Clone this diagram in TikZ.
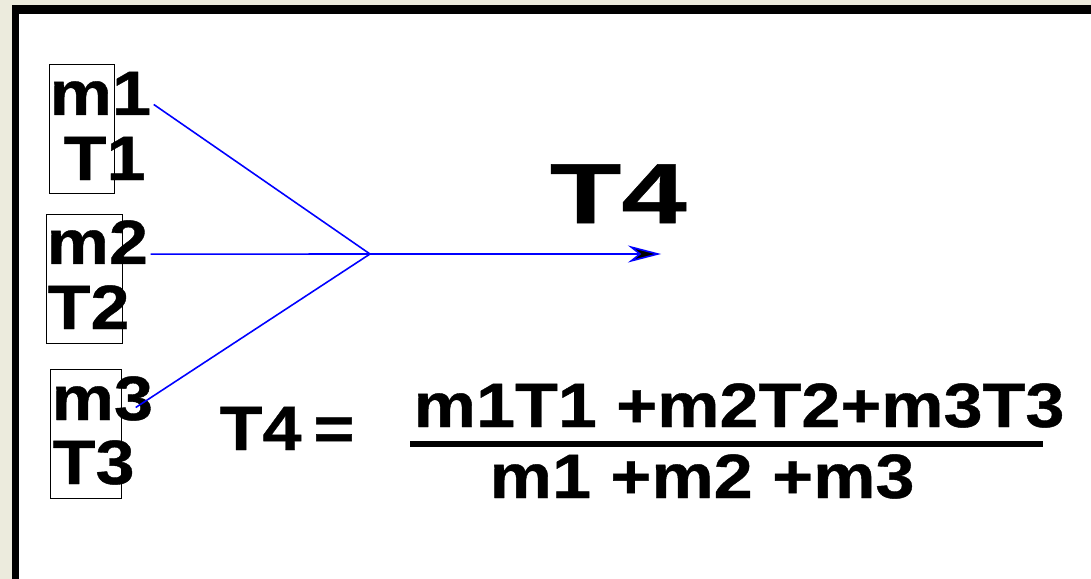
\documentclass[tikz,border=0pt]{standalone}
\usepackage{fontspec}
\setmainfont{Liberation Sans}[FakeStretch=1.12, FakeBold=0.6]
\newfontfamily\widefont{Liberation Sans}[FakeStretch=1.38, FakeBold=0.6]
\usetikzlibrary{arrows.meta, calc}
\definecolor{stone}{RGB}{236,235,221}
\tikzset{
  massbox/.style={
    rectangle, draw=black, line width=0.4pt,
    minimum height=1.29cm, inner sep=0pt, anchor=north west,
  },
  mlabel/.style={
    anchor=base west, inner sep=0pt,
    font=\fontsize{17.8}{18}\selectfont\bfseries,
  },
  biglabel/.style={
    anchor=base west, inner sep=0pt,
    font=\widefont\fontsize{24.2}{25}\selectfont\bfseries,
  },
  flow/.style={
    draw=blue, line width=0.45pt,
  },
  arrow/.style={
    flow, -{Stealth[length=0.33cm, width=0.17cm, fill=black]},
  },
  fracbar/.style={
    line width=1.7pt, draw=black,
  }
}

\begin{document}
\begin{tikzpicture}[x=0.01cm, y=-0.01cm]

  % Stone margin and the framed board
  \fill[stone] (0,0) rectangle (1091,579);
  \fill[black] (12,5) rectangle (1091,579);
  \fill[white] (19,14) rectangle (1091,579);
  \useasboundingbox (0,0) rectangle (1091,579);

  % The three incoming streams
  \node[massbox, minimum width=0.65cm] (box1) at (49,64) {};
  \node[massbox, minimum width=0.76cm] (box2) at (46,214) {};
  \node[massbox, minimum width=0.71cm] (box3) at (50,369) {};

  \node[mlabel] (m1) at (49,115) {m1};
  \node[mlabel] (T1) at (63,180) {T1};
  \node[mlabel] (m2) at (46,264) {m2};
  \node[mlabel] (T2) at (47,329) {T2};
  \node[mlabel] (m3) at (51,420) {m3};
  \node[mlabel] (T3) at (52,484) {T3};

  % Mixing point and outflow
  \coordinate (mix) at (370,254);
  \coordinate (out) at (661,254);

  \draw[flow] ($(m1.east)+(2,11)$) -- (mix);
  \draw[flow] ($(m2.east)+(2,12)$) -- (mix);
  \draw[flow] ($(m3.east)+(-18,9)$) -- (mix);
  \draw[arrow] (mix) -- (out);

  \node[biglabel] (T4) at (549,223) {T4};

  % Mixing rule
  \node[mlabel] (lhs) at (219,450) {T4\kern0.12cm=};
  \node[mlabel] (num) at (413,427) {m1T1 +m2T2+m3T3};
  \node[mlabel] (den) at (489,498) {m1 +m2 +m3};
  \draw[fracbar] (410,444) -- (1043,444);

\end{tikzpicture}
\end{document}
